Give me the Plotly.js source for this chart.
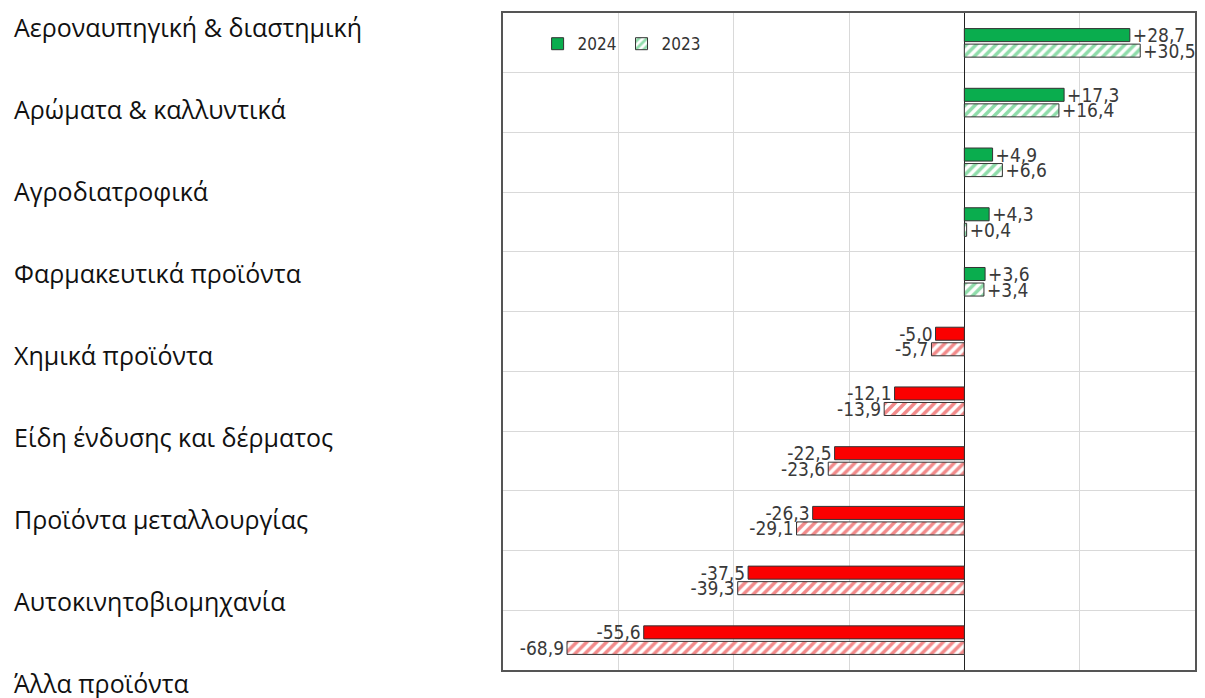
<!DOCTYPE html>
<html>
<head>
<meta charset="utf-8">
<script src="https://cdn.plot.ly/plotly-3.0.1.min.js"></script>
<style>
  html, body { margin: 0; padding: 0; background: #ffffff; }
  #chart { width: 1205px; height: 698px; }
</style>
</head>
<body>
<div id="chart"></div>
<script>
// Category labels shown at the left of the picture
const categoryLabels = [
  'Αεροναυπηγική & διαστημική',
  'Αρώματα & καλλυντικά',
  'Αγροδιατροφικά',
  'Φαρμακευτικά προϊόντα',
  'Χημικά προϊόντα',
  'Είδη ένδυσης και δέρματος',
  'Προϊόντα μεταλλουργίας',
  'Αυτοκινητοβιομηχανία',
  'Άλλα προϊόντα'
];

// Bar rows, top to bottom
const rows = [1, 2, 3, 4, 5, 6, 7, 8, 9, 10, 11];

// Series values
const values2024 = [28.7, 17.3, 4.9, 4.3, 3.6, -5.0, -12.1, -22.5, -26.3, -37.5, -55.6];
const values2023 = [30.5, 16.4, 6.6, 0.4, 3.4, -5.7, -13.9, -23.6, -29.1, -39.3, -68.9];

const seriesNames = ['2024', '2023'];

function fmt(v) {
  const s = Math.abs(v).toFixed(1).replace('.', ',');
  return (v >= 0 ? '+' : '-') + s;
}

const GREEN = '#0aad4e';
const RED = '#fb0000';
const GREEN_LIGHT = '#8fdcaa';
const RED_LIGHT = '#f28a8a';
const condensed = 'DejaVu Sans Condensed, Liberation Sans Narrow, Roboto Condensed, Roboto, sans-serif';
const valueFont = { family: condensed, size: 19, color: '#3a3a3a' };

const trace2024 = {
  type: 'bar',
  orientation: 'h',
  name: seriesNames[0],
  y: rows,
  x: values2024,
  text: values2024.map(fmt),
  textposition: 'outside',
  constraintext: 'none',
  cliponaxis: false,
  textfont: valueFont,
  outsidetextfont: valueFont,
  hoverinfo: 'x+name',
  marker: {
    color: values2024.map(v => v >= 0 ? GREEN : RED),
    line: { color: '#333333', width: 1 }
  }
};

const trace2023 = {
  type: 'bar',
  orientation: 'h',
  name: seriesNames[1],
  y: rows,
  x: values2023,
  text: values2023.map(fmt),
  textposition: 'outside',
  constraintext: 'none',
  cliponaxis: false,
  textfont: valueFont,
  outsidetextfont: valueFont,
  hoverinfo: 'x+name',
  marker: {
    color: '#ffffff',
    line: { color: '#333333', width: 1 },
    pattern: {
      shape: '/',
      fgcolor: values2023.map(v => v >= 0 ? GREEN_LIGHT : RED_LIGHT),
      bgcolor: '#ffffff',
      fgopacity: 1,
      size: 7,
      solidity: 0.5,
      fillmode: 'replace'
    }
  }
};

// Left-side labels as annotations (layout positions only)
const plotTop = 13, plotH = 657;
const labelStart = 27, labelStep = 82;
const annotations = categoryLabels.map((t, i) => ({
  text: t,
  xref: 'paper', yref: 'paper',
  x: (12 - 503) / 692,
  y: 1 - (labelStart + labelStep * i - plotTop) / plotH,
  xanchor: 'left', yanchor: 'middle',
  showarrow: false,
  font: { family: 'Open Sans, Noto Sans, sans-serif', size: 25, color: '#111111' }
}));

const layout = {
  width: 1205,
  height: 698,
  margin: { l: 503, r: 10, t: 13, b: 28, pad: 0 },
  paper_bgcolor: '#ffffff',
  plot_bgcolor: '#ffffff',
  barmode: 'group',
  bargap: 0.48,
  bargroupgap: 0.16,
  showlegend: true,
  legend: {
    orientation: 'h',
    x: 0.05, y: 0.98,
    xanchor: 'left', yanchor: 'top',
    bgcolor: 'rgba(0,0,0,0)',
    font: { family: condensed, size: 17, color: '#333333' },
    itemwidth: 30,
    traceorder: 'normal'
  },
  xaxis: {
    range: [-80, 40],
    dtick: 20,
    tick0: 0,
    showticklabels: false,
    ticks: '',
    showgrid: true,
    gridcolor: '#d9d9d9',
    gridwidth: 1,
    zeroline: true,
    zerolinecolor: '#222222',
    zerolinewidth: 1,
    showline: true,
    mirror: true,
    linecolor: '#555555',
    linewidth: 2,
    fixedrange: true
  },
  yaxis: {
    range: [11.5, 0.5],
    tick0: 0.5,
    dtick: 1,
    showticklabels: false,
    ticks: '',
    showgrid: true,
    gridcolor: '#d9d9d9',
    gridwidth: 1,
    zeroline: false,
    showline: true,
    mirror: true,
    linecolor: '#555555',
    linewidth: 2,
    fixedrange: true
  },
  annotations: annotations
};

Plotly.newPlot('chart', [trace2024, trace2023], layout, { displayModeBar: false, staticPlot: true });
</script>
</body>
</html>
